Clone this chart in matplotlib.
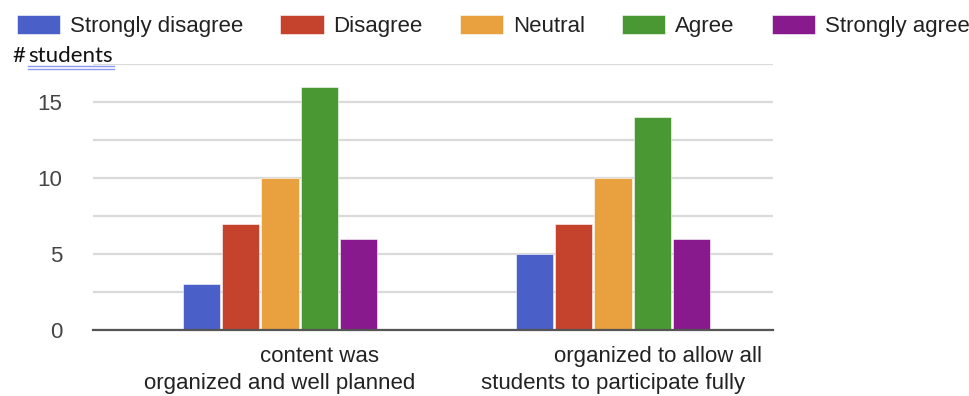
import matplotlib
matplotlib.use("Agg")
import matplotlib.pyplot as plt
import numpy as np

plt.rcParams['font.family'] = ['Liberation Sans', 'DejaVu Sans']

# data
responses = ["Strongly disagree", "Disagree", "Neutral", "Agree", "Strongly agree"]
colors = ["#4a5fc8", "#c5432c", "#e9a03f", "#4a9834", "#891a8e"]
label_line1 = ["content was", "organized to allow all"]
label_line2 = ["organized and well planned", "students to participate fully"]
counts_content = [3, 7, 10, 16, 6]
counts_participate = [5, 7, 10, 14, 6]

groups = [counts_content, counts_participate]
x = np.arange(len(groups))

fig = plt.figure(figsize=(9.69, 3.96), dpi=100)
ax = fig.add_axes([0.096, 0.1667, 0.7017, 0.6717])

step = 0.118
width = 0.112
for k, name in enumerate(responses):
    vals = [g[k] for g in groups]
    ax.bar(x + (k - 2) * step, vals, width, color=colors[k], label=name, zorder=3,
           edgecolor="white", linewidth=0.4)

ax.set_xlim(-0.5616, 1.4805)
ax.set_ylim(0, 17.5)
ax.set_yticks([0, 5, 10, 15])
ax.set_yticks([2.5, 7.5, 12.5, 17.5], minor=True)
ax.grid(axis="y", which="both", color="#dadada", linewidth=1.6, zorder=0)
ax.axhline(0, color="#555555", linewidth=1.6, zorder=4, clip_on=False)
for s in ax.spines.values():
    s.set_visible(False)
ax.tick_params(axis="y", which="both", length=0, pad=22, labelsize=16, labelcolor="#444444")
ax.tick_params(axis="x", length=0, pad=31, labelsize=16, labelcolor="#222222")
ax.set_xticks(x)
ax.set_xticklabels(label_line2)

# first line of each wrapped category label, shifted like in the reference
offsets = [0.12, 0.135]
for i, txt in enumerate(label_line1):
    ax.text(x[i] + offsets[i], -0.06, txt, transform=ax.get_xaxis_transform(),
            ha="center", va="top", fontsize=16, color="#222222")

fig.text(12 / 969, 1 - 56 / 396, "#", fontsize=16, family="Lato", color="#111111",
         va="center", ha="left")
fig.text(28 / 969, 1 - 56 / 396, "students", fontsize=16, family="Lato", color="#111111",
         va="center", ha="left")
# spell-check style double underline
for yy in (66, 69):
    fig.add_artist(plt.Line2D([28 / 969, 114 / 969], [1 - yy / 396, 1 - yy / 396],
                              color="#8a9cf0", linewidth=1))

fig.legend(loc="upper left", bbox_to_anchor=(17 / 969, 1 - 15 / 396), ncol=5,
           frameon=False, fontsize=16, handlelength=1.94, handleheight=0.95,
           handletextpad=0.45, columnspacing=1.67, borderpad=0, borderaxespad=0,
           labelcolor="#222222")

fig.savefig("out.png", dpi=100, facecolor="white")
